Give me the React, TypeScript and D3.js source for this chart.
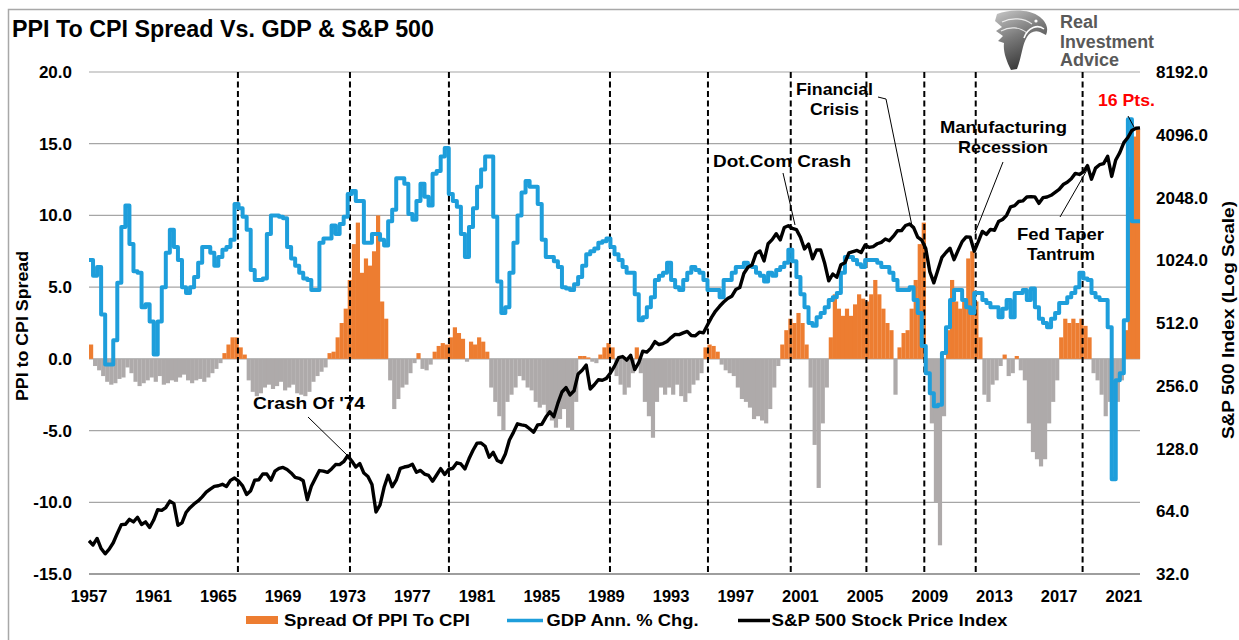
import React from 'react';
import * as d3 from 'd3';

// ---------------- DATA ----------------
const xTickYears = [1957, 1961, 1965, 1969, 1973, 1977, 1981, 1985, 1989, 1993, 1997, 2001, 2005, 2009, 2013, 2017, 2021];
const leftTicks = [20, 15, 10, 5, 0, -5, -10, -15];
const rightTicks = [8192, 4096, 2048, 1024, 512, 256, 128, 64, 32];

// Quarterly, 1957Q1 .. 2021Q4 : GDP annual % change
const gdpQ = [
  6.9, 5.8, 6.4, 3.1,
  -0.4, -0.4, 1.3, 5.3,
  9.2, 10.7, 8.0, 6.1,
  6.0, 3.6, 3.8, 2.6,
  0.3, 2.6, 5.0, 7.4,
  9.0, 7.8, 6.9, 5.0,
  4.6, 5.0, 5.7, 6.7,
  7.8, 7.8, 7.4, 6.5,
  7.1, 7.6, 7.8, 8.3,
  10.8, 10.5, 9.9, 9.0,
  6.2, 5.5, 5.5, 5.6,
  8.7, 10.0, 10.0, 9.9,
  9.8, 7.8, 7.0, 6.5,
  6.0, 5.6, 5.5, 4.8,
  4.8, 8.1, 8.4, 8.4,
  9.3, 8.7, 9.4, 9.9,
  11.5, 11.7, 11.0, 11.0,
  8.1, 8.1, 8.7, 8.7,
  8.3, 7.9, 9.6, 10.4,
  12.6, 12.6, 12.2, 10.1,
  9.7, 11.0, 12.2, 11.3,
  10.7, 12.9, 13.1, 14.1,
  14.7, 11.5, 11.0, 10.6,
  8.7, 7.1, 9.2, 10.5,
  12.0, 13.2, 14.1, 14.1,
  9.9, 5.4, 3.2, 3.6,
  6.0, 8.1, 10.0, 11.6,
  12.4, 12.0, 12.0, 10.8,
  8.3, 7.1, 7.1, 6.8,
  6.4, 5.0, 4.9, 4.8,
  5.2, 5.7, 6.5, 7.3,
  7.5, 7.7, 8.1, 8.2,
  8.4, 7.8, 7.3, 6.9,
  6.4, 6.0, 6.0, 4.5,
  2.7, 2.9, 3.6, 4.3,
  5.5, 5.8, 6.0, 6.7,
  5.5, 5.0, 4.8, 5.5,
  6.0, 6.4, 6.2, 6.0,
  5.5, 4.8, 4.8, 4.8,
  4.3, 5.5, 5.5, 6.0,
  6.4, 6.4, 6.7, 6.5,
  6.4, 6.0, 5.8, 5.4,
  6.0, 5.8, 6.2, 6.4,
  6.7, 7.6, 6.8, 5.7,
  4.5, 3.6, 2.5, 2.3,
  2.9, 3.2, 3.6, 4.1,
  4.3, 4.6, 6.0, 7.1,
  7.1, 6.9, 6.6, 6.4,
  6.9, 6.9, 6.9, 6.7,
  6.4, 6.4, 6.0, 5.5,
  4.8, 4.8, 4.8, 5.0,
  4.1, 3.2, 0.9, -1.0,
  -2.4, -3.3, -3.2, 0.4,
  2.2, 4.1, 4.8, 4.8,
  4.1, 3.6, 3.2, 4.6,
  4.6, 4.1, 3.9, 3.6,
  3.6, 2.9, 3.5, 4.1,
  2.9, 4.6, 4.6, 4.8,
  4.1, 4.9, 3.6, 2.8,
  2.5, 2.2, 2.8, 3.2,
  3.9, 3.9, 4.3, 4.6,
  5.0, 6.0, 5.6, 5.5,
  4.6, 4.3, 4.1, 4.1,
  2.2, -8.4, -1.5, -1.0,
  2.7, 16.7, 9.6, 9.6,
];

// Quarterly, 1957Q1 .. 2021Q4 : spread of PPI to CPI
const spreadQ = [
  1.0, -0.5, -0.8, -1.2,
  -1.6, -1.8, -1.7, -1.4,
  -1.3, -0.6, -1.0, -1.6,
  -1.9, -1.7, -1.5, -1.3,
  -1.6, -1.2, -1.8, -1.7,
  -1.5, -1.6, -1.3, -1.1,
  -1.5, -1.7, -1.5, -1.4,
  -1.6, -1.3, -1.0, -0.7,
  -0.3, 0.4, 1.0, 1.5,
  1.5, 0.8, 0.3, -1.5,
  -2.3, -2.6, -2.4, -2.0,
  -1.8, -2.1, -1.9, -1.6,
  -2.2, -2.0, -1.8, -2.4,
  -2.5, -2.6, -2.3, -1.6,
  -1.2, -0.9, -0.6, 0.4,
  0.5, 1.5, 2.5, 3.5,
  5.5, 8.0, 9.5, 6.0,
  7.0, 6.5, 7.5, 10.0,
  4.0, 2.8, -1.5, -3.5,
  -2.8, -2.0, -1.8, -1.0,
  -0.3, 0.4, -0.7, -0.8,
  -0.4, 0.5, 0.9, 1.1,
  1.0, 1.5, 2.2, 1.8,
  1.4, -0.2, 1.2, 1.0,
  1.5, 1.2, 0.5, -2.0,
  -3.0, -4.0, -5.0, -3.0,
  -2.5, -2.0, -1.2, -1.5,
  -2.0, -2.2, -3.0, -3.4,
  -3.2, -3.8, -4.3, -4.8,
  -4.2, -3.5, -4.8, -5.0,
  -3.0, 0.2, 0.2, 0.1,
  -0.2, -0.3, 0.3, 0.8,
  1.1, 0.8, -1.2, -1.8,
  -2.5, -2.0, -1.0, 0.8,
  -1.0, -3.0, -4.0, -5.5,
  -3.0, -2.0, -2.5, -2.0,
  -2.5, -1.8, -2.6, -3.0,
  -2.4, -1.8, -1.5, -1.0,
  0.8, 1.0, 0.9, 0.5,
  -0.4, -0.8, -1.0, -1.2,
  -2.0, -2.8, -3.0, -3.4,
  -4.2, -4.0, -4.3, -4.5,
  -3.5, -2.0, -0.5, 1.0,
  2.0, 2.8, 2.5, 3.2,
  2.5, 1.0, -2.0, -6.0,
  -9.0, -4.5, -2.0, 1.5,
  4.5, 3.5, 3.0, 3.5,
  3.0, 3.8, 4.5, 4.2,
  4.0, 4.5, 5.5, 4.5,
  3.5, 2.5, 2.0, -2.5,
  0.8, 1.8, 2.0, 3.5,
  5.5, 8.0, 9.5, -1.0,
  -4.5, -10.0, -13.0, -4.0,
  2.0, 5.5, 4.0, 3.5,
  4.0, 7.0, 7.5, 4.0,
  1.5, -2.5, -3.0, -1.8,
  -1.5, -0.5, 0.3, -1.2,
  -1.0, 0.2, -0.8, -1.5,
  -4.5, -6.5, -7.0, -7.5,
  -7.0, -4.5, -3.0, -1.5,
  1.5, 2.8, 2.5, 2.8,
  2.5, 2.8, 2.3, 1.5,
  -1.0, -1.5, -2.5, -4.0,
  -3.0, -5.0, -3.0, -1.5,
  2.0, 12.0, 15.5, 16.0,
];

// S&P 500, start of 1957 then end of each quarter 1957Q1 .. 2021Q4
const spxStart = 46.2;
const spxQ = [
  44.1, 47.4, 42.4, 40.0,
  42.1, 45.2, 50.1, 55.2,
  55.4, 58.5, 56.9, 59.9,
  55.3, 56.9, 53.5, 58.1,
  65.1, 64.6, 66.7, 71.6,
  69.6, 54.8, 56.3, 63.1,
  66.6, 69.4, 71.7, 75.0,
  79.0, 81.7, 84.2, 84.8,
  86.2, 84.1, 90.0, 92.4,
  89.2, 84.7, 77.0, 80.3,
  90.2, 90.6, 96.7, 96.5,
  90.2, 99.6, 102.7, 103.9,
  101.5, 97.7, 93.1, 92.1,
  89.6, 72.7, 84.3, 92.2,
  100.3, 99.7, 98.3, 102.1,
  107.2, 107.1, 110.6, 118.1,
  111.5, 104.3, 108.4, 97.6,
  94.0, 86.0, 63.5, 68.6,
  83.4, 95.2, 83.9, 90.2,
  102.8, 104.3, 105.2, 107.5,
  98.4, 100.5, 96.5, 95.1,
  89.2, 95.5, 102.5, 96.1,
  101.6, 102.9, 109.3, 107.9,
  102.1, 114.2, 125.5, 135.8,
  136.0, 131.2, 116.2, 122.6,
  112.0, 109.6, 120.4, 140.6,
  153.0, 168.1, 166.1, 164.9,
  159.2, 153.2, 166.1, 167.2,
  180.7, 191.9, 182.1, 211.3,
  238.9, 250.8, 231.3, 242.2,
  291.7, 304.0, 321.8, 247.1,
  258.9, 273.5, 271.9, 277.7,
  294.9, 318.0, 349.2, 353.4,
  339.9, 358.0, 306.1, 330.2,
  375.2, 371.2, 387.9, 417.1,
  403.7, 408.1, 417.8, 435.7,
  451.7, 450.5, 458.9, 466.5,
  445.8, 444.3, 462.7, 459.3,
  500.7, 544.8, 584.4, 615.9,
  645.5, 670.6, 687.3, 740.7,
  757.1, 885.1, 947.3, 970.4,
  1101.8, 1133.8, 1017.0, 1229.2,
  1286.4, 1372.7, 1282.7, 1469.3,
  1498.6, 1454.6, 1436.5, 1320.3,
  1160.3, 1224.4, 1040.9, 1148.1,
  1147.4, 989.8, 815.3, 879.8,
  848.2, 974.5, 996.0, 1111.9,
  1126.2, 1140.8, 1114.6, 1211.9,
  1180.6, 1191.3, 1228.8, 1248.3,
  1294.8, 1270.2, 1335.9, 1418.3,
  1420.9, 1503.4, 1526.8, 1468.4,
  1322.7, 1280.0, 1166.4, 903.3,
  797.9, 919.3, 1057.1, 1115.1,
  1169.4, 1030.7, 1141.2, 1257.6,
  1325.8, 1320.6, 1131.4, 1257.6,
  1408.5, 1362.2, 1440.7, 1426.2,
  1569.2, 1606.3, 1681.6, 1848.4,
  1872.3, 1960.2, 1972.3, 2058.9,
  2067.9, 2063.1, 1920.0, 2043.9,
  2059.7, 2098.9, 2168.3, 2238.8,
  2362.7, 2423.4, 2519.4, 2673.6,
  2640.9, 2718.4, 2914.0, 2506.9,
  2834.4, 2941.8, 2976.7, 3230.8,
  2584.6, 3100.3, 3363.0, 3756.1,
  3972.9, 4297.5, 4400.0, 4420.0,
];

const eventYears = [1966.21, 1973.14, 1979.26, 1989.22, 1995.28, 2000.4, 2005.08, 2008.66, 2011.84, 2018.45];

// ---------------- LAYOUT ----------------
const W = 1239;
const H = 640;
const FONT = "'Liberation Sans', Arial, Helvetica, sans-serif";
const ORANGE = '#ED7D31';
const GREY = '#AEAAAA';
const BLUE = '#1E9EDB';

const x = d3.scaleLinear().domain([1957, 2022]).range([89, 1140]);
const yL = d3.scaleLinear().domain([-15, 20]).range([574, 72]);
const yR = d3.scaleLog().base(2).domain([32, 8192]).range([574, 72]);

export default function App() {
  const y0 = yL(0);
  const bars = spreadQ.map((v, i) => {
    const t0 = 1957 + i / 4;
    const x0 = x(t0);
    const x1 = x(t0 + 0.25);
    const yv = yL(v);
    return (
      <rect
        key={'b' + i}
        x={x0}
        width={x1 - x0 + 0.15}
        y={Math.min(yv, y0)}
        height={Math.abs(yv - y0)}
        fill={v >= 0 ? ORANGE : GREY}
      />
    );
  });

  const gdpPts: [number, number][] = gdpQ.map((v, i) => [1957 + i / 4, v]);
  gdpPts.push([2022, gdpQ[gdpQ.length - 1]]);
  const gdpPath = d3
    .line<[number, number]>()
    .x((d) => x(d[0]))
    .y((d) => yL(d[1]))
    .curve(d3.curveStepAfter)(gdpPts);

  const spxPts: [number, number][] = [[1957, spxStart], ...spxQ.map((v, i) => [1957 + (i + 1) / 4, v] as [number, number])];
  const spxPath = d3
    .line<[number, number]>()
    .x((d) => x(d[0]))
    .y((d) => yR(d[1]))(spxPts);

  const txt = { fontFamily: FONT, fontWeight: 700 } as const;

  return (
    <svg width={W} height={H} style={{ position: 'absolute', left: 0, top: 0, background: '#fff' }}>
      <defs>
        <linearGradient id="eagleGrad" x1="0" y1="0" x2="0.4" y2="1">
          <stop offset="0" stopColor="#c9c9c9" />
          <stop offset="0.5" stopColor="#7a7a7a" />
          <stop offset="1" stopColor="#3a3a3a" />
        </linearGradient>
      </defs>
      <rect x={0} y={0} width={W} height={H} fill="#fff" />
      {/* frame */}
      <path d="M8.5,640 V9.5 H1239" fill="none" stroke="#a8a8a8" strokeWidth={1.5} />

      {/* title */}
      <text x={12} y={37} fontSize={24} textLength={422} lengthAdjust="spacingAndGlyphs" {...txt} fill="#000">
        PPI To CPI Spread Vs. GDP &amp; S&amp;P 500
      </text>

      {/* logo */}
      <g>
        <path
          d="M997,14 C1010,9 1030,9 1040,17 C1046,22 1049,28 1046,35 L1040,32 C1035,30 1030,32 1027,37 C1022,45 1022,56 1017,69 L1011,70 C1006,60 1003,51 1004,43 L998,41 L1003,36 L996,31 L1002,27 L995,21 Z"
          fill="url(#eagleGrad)"
        />
        <path d="M1002,22 C1012,17 1024,18 1032,24" fill="none" stroke="#fff" strokeWidth={1.2} opacity={0.8} />
        <path d="M1001,31 C1010,26 1020,27 1027,33" fill="none" stroke="#fff" strokeWidth={1.2} opacity={0.8} />
        <path d="M1024,38 C1028,27 1038,24 1044,29" fill="none" stroke="#fff" strokeWidth={1.6} />
        <circle cx={1036} cy={21} r={1.6} fill="#fff" />
        <text x={1060} y={28} fontSize={18} {...txt} fill="#595959">Real</text>
        <text x={1060} y={48} fontSize={18} {...txt} fill="#595959" textLength={94} lengthAdjust="spacingAndGlyphs">Investment</text>
        <text x={1060} y={66} fontSize={18} {...txt} fill="#595959">Advice</text>
      </g>

      {/* gridlines */}
      {leftTicks.map((t) => (
        <line key={'g' + t} x1={89} x2={1140} y1={yL(t)} y2={yL(t)} stroke="#a6a6a6" strokeWidth={1.2} />
      ))}

      {/* spread bars */}
      <g>{bars}</g>

      {/* x axis line */}
      <line x1={89} x2={1140} y1={yL(-15)} y2={yL(-15)} stroke="#8c8c8c" strokeWidth={1.5} />

      {/* event dashed lines */}
      {eventYears.map((e, i) => (
        <line
          key={'e' + i}
          x1={x(e)}
          x2={x(e)}
          y1={72}
          y2={574}
          stroke="#000"
          strokeWidth={2}
          strokeDasharray="6,3.5"
        />
      ))}

      {/* GDP line */}
      <path d={gdpPath || ''} fill="none" stroke={BLUE} strokeWidth={4} strokeLinejoin="round" />
      {/* S&P line */}
      <path d={spxPath || ''} fill="none" stroke="#000" strokeWidth={3.4} strokeLinejoin="round" />

      {/* left ticks */}
      {leftTicks.map((t) => (
        <text key={'l' + t} x={72} y={yL(t) + 6} fontSize={17} textAnchor="end" {...txt} fill="#000">
          {t.toFixed(1)}
        </text>
      ))}
      {/* right ticks */}
      {rightTicks.map((t) => (
        <text key={'r' + t} x={1156} y={yR(t) + 6} fontSize={17} textAnchor="start" {...txt} fill="#000">
          {t.toFixed(1)}
        </text>
      ))}
      {/* x ticks */}
      {xTickYears.map((yr) => (
        <text key={'x' + yr} x={x(yr)} y={602} fontSize={16.5} textAnchor="middle" {...txt} fill="#000">
          {yr}
        </text>
      ))}

      {/* axis titles */}
      <text
        transform="translate(28,326) rotate(-90)"
        fontSize={17}
        textAnchor="middle"
        textLength={150}
        lengthAdjust="spacingAndGlyphs"
        {...txt}
        fill="#000"
      >
        PPI to CPI Spread
      </text>
      <text
        transform="translate(1234,320) rotate(-90)"
        fontSize={17}
        textAnchor="middle"
        textLength={238}
        lengthAdjust="spacingAndGlyphs"
        {...txt}
        fill="#000"
      >
        S&amp;P 500 Index (Log Scale)
      </text>

      {/* annotations */}
      <g {...txt} fontSize={17} fill="#000">
        <text x={253} y={408.5} textLength={112} lengthAdjust="spacingAndGlyphs">Crash Of '74</text>
        <line x1={308} y1={417} x2={347} y2={455} stroke="#000" strokeWidth={1} />
        <text x={713} y={166.5} textLength={138} lengthAdjust="spacingAndGlyphs">Dot.Com Crash</text>
        <line x1={783} y1={173} x2={795} y2={225} stroke="#000" strokeWidth={1} />
        <text x={796} y={94.5} textLength={77} lengthAdjust="spacingAndGlyphs">Financial</text>
        <text x={810} y={115} textLength={49} lengthAdjust="spacingAndGlyphs">Crisis</text>
        <polyline points="878,97 886,99 912,226" fill="none" stroke="#000" strokeWidth={1} />
        <text x={940} y={132.5} textLength={127} lengthAdjust="spacingAndGlyphs">Manufacturing</text>
        <text x={958} y={153} textLength={90} lengthAdjust="spacingAndGlyphs">Recession</text>
        <line x1={1003} y1={162} x2={975} y2={233} stroke="#000" strokeWidth={1} />
        <text x={1017} y={240} textLength={87} lengthAdjust="spacingAndGlyphs">Fed Taper</text>
        <text x={1027} y={260} textLength={68} lengthAdjust="spacingAndGlyphs">Tantrum</text>
        <line x1={1060} y1={217} x2={1087} y2={170} stroke="#000" strokeWidth={1} />
        <text x={1098} y={105.5} textLength={57} lengthAdjust="spacingAndGlyphs" fill="#FF0000">16 Pts.</text>
        <line x1={1128} y1={116} x2={1134} y2={127} stroke="#000" strokeWidth={1} />
      </g>

      {/* legend */}
      <g {...txt} fontSize={16} fill="#000">
        <rect x={246} y={616} width={32} height={8} fill={ORANGE} />
        <text x={284} y={626} textLength={186} lengthAdjust="spacingAndGlyphs">Spread Of PPI To CPI</text>
        <line x1={507} x2={543} y1={620.5} y2={620.5} stroke={BLUE} strokeWidth={3.5} />
        <text x={546.5} y={626} textLength={152} lengthAdjust="spacingAndGlyphs">GDP Ann. % Chg.</text>
        <line x1={738} x2={770} y1={620.5} y2={620.5} stroke="#000" strokeWidth={3.5} />
        <text x={771.5} y={626} textLength={236} lengthAdjust="spacingAndGlyphs">S&amp;P 500 Stock Price Index</text>
      </g>
    </svg>
  );
}
